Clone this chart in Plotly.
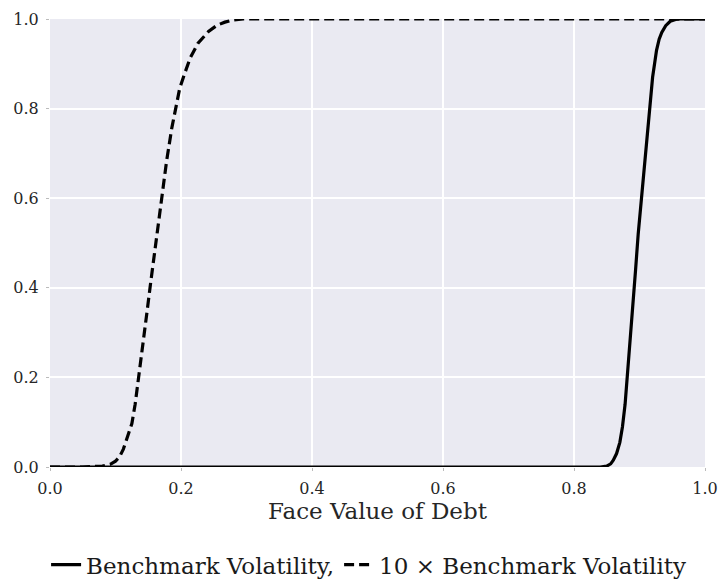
import plotly.graph_objects as go

# Face value of debt (x) and probability (y) for the two series
bench_x = [0.0, 0.84, 0.85, 0.856, 0.860, 0.865, 0.870, 0.874, 0.878, 0.882, 0.886,
           0.890, 0.894, 0.898, 0.902, 0.906, 0.910, 0.914, 0.917, 0.920, 0.923,
           0.926, 0.930, 0.934, 0.940, 0.947, 0.955, 0.962, 1.0]
bench_y = [0.0, 0.0, 0.002, 0.007, 0.015, 0.03, 0.055, 0.09, 0.14, 0.21, 0.285,
           0.36, 0.44, 0.52, 0.585, 0.645, 0.71, 0.78, 0.83, 0.87, 0.90,
           0.93, 0.955, 0.97, 0.985, 0.995, 0.999, 1.0, 1.0]

high_x = [0.0, 0.05, 0.08, 0.092, 0.100, 0.106, 0.112, 0.117, 0.122, 0.125, 0.130,
          0.136, 0.142, 0.148, 0.154, 0.160, 0.165, 0.170, 0.178, 0.186, 0.192,
          0.198, 0.206, 0.214, 0.226, 0.242, 0.255, 0.267, 0.280, 0.295, 1.0]
high_y = [0.0, 0.0, 0.002, 0.006, 0.013, 0.022, 0.04, 0.06, 0.083, 0.097, 0.14,
          0.205, 0.275, 0.345, 0.415, 0.485, 0.545, 0.603, 0.683, 0.757, 0.805,
          0.845, 0.88, 0.913, 0.946, 0.972, 0.986, 0.993, 0.998, 1.0, 1.0]

tick_vals = [0.0, 0.2, 0.4, 0.6, 0.8, 1.0]
tick_text = ["0.0", "0.2", "0.4", "0.6", "0.8", "1.0"]

x_title = "Face Value of Debt"
name_bench = "Benchmark Volatility,"
name_high = "10 × Benchmark Volatility"

SERIF = "DejaVu Serif"

fig = go.Figure()
fig.add_trace(go.Scatter(x=bench_x, y=bench_y, mode="lines", name=name_bench,
                         line=dict(color="black", width=3.2)))
fig.add_trace(go.Scatter(x=high_x, y=high_y, mode="lines", name=name_high,
                         line=dict(color="black", width=3.2, dash="10px,5px")))

axis_common = dict(
    range=[0, 1],
    tickvals=tick_vals,
    ticktext=tick_text,
    showgrid=True,
    gridcolor="white",
    gridwidth=1.6,
    zeroline=False,
    showline=False,
    ticks="outside",
    ticklen=3,
    tickcolor="#bbbbbb",
    tickfont=dict(family=SERIF, size=16, color="#262626"),
)

fig.update_xaxes(**axis_common,
                 title=dict(text=x_title, font=dict(family=SERIF, size=23, color="#262626"),
                            standoff=4),
                 ticklabelstandoff=4)
fig.update_yaxes(**axis_common, ticklabelstandoff=4)

fig.update_layout(
    width=727, height=583,
    margin=dict(l=50, r=22, t=19, b=116, autoexpand=False),
    paper_bgcolor="white",
    plot_bgcolor="#EAEAF2",
    showlegend=True,
    legend=dict(orientation="h", xref="container", x=0.507, xanchor="center",
                y=-0.17, yanchor="top",
                font=dict(family=SERIF, size=23, color="#1a1a1a"),
                bgcolor="rgba(0,0,0,0)", tracegroupgap=0),
)

fig.write_html("out.html", config={"displayModeBar": False},
               post_script="document.body.style.margin='0';document.body.style.padding='0';")
